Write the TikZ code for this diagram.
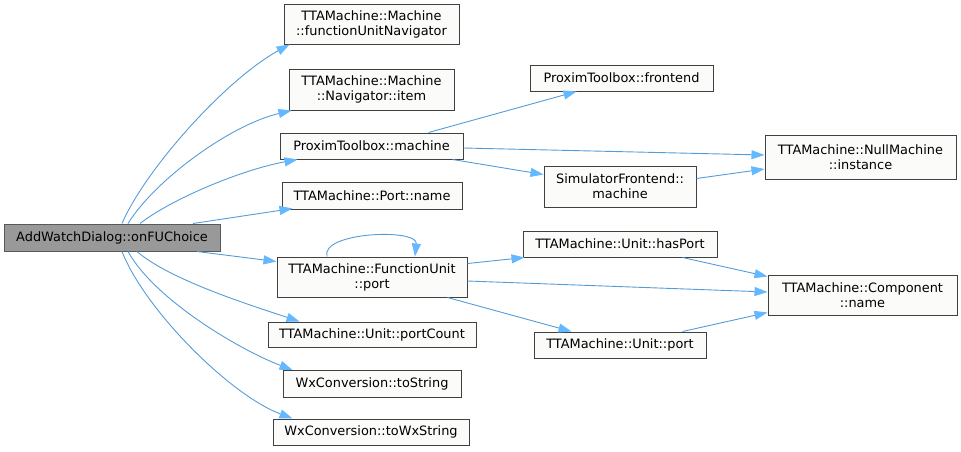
\documentclass[tikz,border=0pt]{standalone}
\usepackage{fontspec}
\setmainfont{DejaVu Sans}
\usepackage{tikz}
\usetikzlibrary{arrows.meta, calc}
\definecolor{callblue}{HTML}{63B8FF}
\definecolor{boxline}{HTML}{404040}
\definecolor{boxfill}{HTML}{FBFCFA}
\definecolor{rootfill}{HTML}{999999}
\tikzset{
  fn/.style={draw=boxline, fill=boxfill, line width=1pt, align=center, inner sep=0pt,
    font=\fontsize{12.9pt}{15pt}\selectfont, minimum height=#1},
  fn/.default=26pt,
  rootfn/.style={fn=27pt, fill=rootfill, draw=gray!70!black},
  call/.style={draw=callblue!85!black, line width=0.9pt,
    -{Triangle[length=13pt, width=9pt, color=callblue, fill=callblue]}}
}

\begin{document}
\begin{tikzpicture}[x=1pt, y=-1pt]
  \useasboundingbox (0,0) rectangle (961,451);
  % caller
  \node[rootfn, minimum width=216pt] (root) at (112,237.5) {AddWatchDialog::onFUChoice};
  % first level
  \node[fn=40pt, minimum width=175pt] (fun) at (371.5,24) {TTAMachine::Machine\\::functionUnitNavigator};
  \node[fn=41pt, minimum width=165pt] (item) at (371.5,89.5) {TTAMachine::Machine\\::Navigator::item};
  \node[fn, minimum width=183pt] (pmach) at (371.5,146) {ProximToolbox::machine};
  \node[fn=27pt, minimum width=180pt] (pname) at (372,195.5) {TTAMachine::Port::name};
  \node[fn=40pt, minimum width=190pt] (fuport) at (372,277) {TTAMachine::FunctionUnit\\::port};
  \node[fn=25pt, minimum width=208pt] (pcount) at (372,334.5) {TTAMachine::Unit::portCount};
  \node[fn=27pt, minimum width=178pt] (tostr) at (372,384) {WxConversion::toString};
  \node[fn, minimum width=196pt] (towx) at (371,432) {WxConversion::toWxString};
  % second level
  \node[fn, minimum width=183pt] (front) at (621.5,78) {ProximToolbox::frontend};
  \node[fn=41pt, minimum width=152pt] (simm) at (620,186.5) {SimulatorFrontend::\\machine};
  \node[fn, minimum width=194pt] (hasport) at (620,244) {TTAMachine::Unit::hasPort};
  \node[fn, minimum width=172pt] (uport) at (620,345) {TTAMachine::Unit::port};
  % third level
  \node[fn=44pt, minimum width=191pt] (nullm) at (860.5,157) {TTAMachine::NullMachine\\::instance};
  \node[fn=40pt, minimum width=189pt] (cname) at (862.5,295) {TTAMachine::Component\\::name};
  %
  \draw[call] ($(root.north)+(10,0)$) .. controls (145,170) and (225,80) .. ($(fun.south west)+(6,0)$);
  \draw[call] ($(root.north)+(16,0)$) .. controls (155,180) and (230,125) .. ($(item.south west)+(3,0)$);
  \draw[call] ($(root.north)+(28,0)$) .. controls (170,200) and (240,170) .. ($(pmach.south west)+(18,0)$);
  \draw[call] ($(root.north)+(81,0)$) -- ($(pname.south west)+(11,-1)$);
  \draw[call] ($(root.south)+(85,0)$) -- ($(fuport.north west)+(0,5)$);
  \draw[call] ($(root.south)+(25,0)$) .. controls (170,280) and (250,305) .. ($(pcount.north west)+(32,0)$);
  \draw[call] ($(root.south)+(16,0)$) .. controls (155,300) and (240,350) .. ($(tostr.north west)+(10,0)$);
  \draw[call] ($(root.south)+(10,0)$) .. controls (145,310) and (230,395) .. ($(towx.north west)+(20,0)$);
  %
  \draw[call] ($(pmach.north east)+(-35,0)$) -- ($(front.south west)+(47,0)$);
  \draw[call] ($(pmach.east)+(0,2)$) -- ($(nullm.west)+(0,-2)$);
  \draw[call] ($(pmach.south east)+(-11,0)$) -- ($(simm.west)+(0,-12)$);
  \draw[call] ($(simm.east)+(0,-8)$) -- ($(nullm.west)+(0,12)$);
  %
  \draw[call] ($(fuport.north)+(-45,0)$) .. controls (320,232) and (418,228) .. ($(fuport.north)+(43,0)$);
  \draw[call] ($(fuport.north east)+(0,7)$) -- ($(hasport.south west)+(2,0)$);
  \draw[call] ($(fuport.east)+(0,4)$) -- ($(cname.west)+(0,-3)$);
  \draw[call] ($(fuport.south east)+(-20,0)$) -- ($(uport.north west)+(38,0)$);
  \draw[call] ($(hasport.south east)+(-35,0)$) -- ($(cname.north west)+(0,2)$);
  \draw[call] ($(uport.north east)+(-24,0)$) -- ($(cname.south west)+(0,-3)$);
\end{tikzpicture}
\end{document}
